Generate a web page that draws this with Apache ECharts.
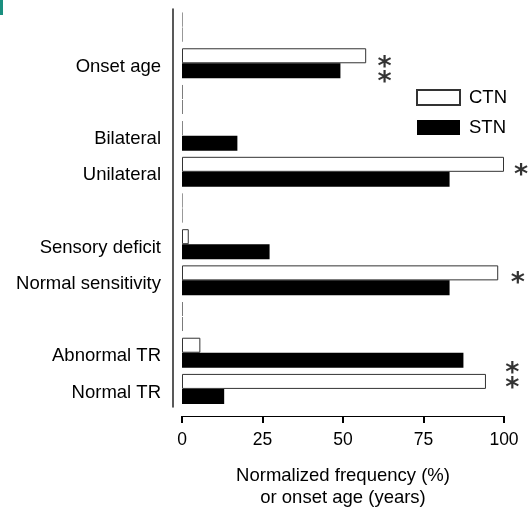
<!DOCTYPE html>
<html>
<head>
<meta charset="utf-8">
<script src="https://cdn.jsdelivr.net/npm/echarts@6/dist/echarts.min.js"></script>
<style>
html,body{margin:0;padding:0;background:#fff;}
#chart{width:528px;height:510px;}
</style>
</head>
<body>
<div id="chart"></div>
<script>
// Categories (top to bottom); empty strings are spacer rows
var categories = ['', 'Onset age', ' ', 'Bilateral', 'Unilateral', '  ', 'Sensory deficit', 'Normal sensitivity', '   ', 'Abnormal TR', 'Normal TR'];
var ctnValues = [0, 57.2, 0, 0, 100, 0, 2.1, 98.2, 0, 5.7, 94.4];
var stnValues = [0, 49.2, 0, 17.2, 83.1, 0, 27.2, 83.1, 0, 87.4, 13.1];
var xTicks = [0, 25, 50, 75, 100];
// Significance marks: [x value, category, text]
var sigMarks = [
  [62.9, 'Onset age', '*\n*'],
  [105.3, 'Unilateral', '*'],
  [104.3, 'Normal sensitivity', '*'],
  [102.6, 'Normal TR', '*\n*']
];

var FONT = '"Liberation Sans", Arial, sans-serif';

function toItems(arr) {
  return arr.map(function (v) {
    if (v === 0) {
      return { value: 0, itemStyle: { color: 'transparent', borderType: [1, 1], borderColor: '#777', borderWidth: 1 } };
    }
    return v;
  });
}

var chart = echarts.init(document.getElementById('chart'), null, { renderer: 'canvas' });
chart.setOption({
  animation: false,
  backgroundColor: '#fff',
  grid: { left: 182, right: 24, top: 9, height: 398, containLabel: false, outerBoundsMode: 'none' },
  legend: {
    orient: 'vertical',
    left: 411,
    top: 83,
    itemWidth: 43,
    itemHeight: 15,
    itemGap: 11,
    icon: 'rect',
    textStyle: { fontFamily: FONT, fontSize: 18.5, color: '#000', padding: [0, 0, 0, 4] },
    data: ['CTN', 'STN']
  },
  xAxis: {
    type: 'value',
    min: xTicks[0],
    max: xTicks[xTicks.length - 1],
    interval: 25,
    offset: 9,
    axisLine: { show: true, onZero: false, lineStyle: { color: '#000', width: 1.2 } },
    axisTick: { show: true, length: 7, lineStyle: { color: '#000', width: 2 } },
    splitLine: { show: false },
    axisLabel: { fontFamily: FONT, fontSize: 17.5, color: '#000', margin: 15 },
    name: 'Normalized frequency (%)\nor onset age (years)',
    nameLocation: 'middle',
    nameGap: 49,
    nameTextStyle: { fontFamily: FONT, fontSize: 18.5, color: '#000', lineHeight: 22, verticalAlign: 'top' }
  },
  yAxis: {
    type: 'category',
    data: categories,
    inverse: true,
    offset: 9,
    axisLine: { show: true, onZero: false, lineStyle: { color: '#222', width: 1.5 } },
    axisTick: { show: false },
    splitLine: { show: false },
    axisLabel: { fontFamily: FONT, fontSize: 18.5, color: '#000', margin: 12, verticalAlign: 'top', lineHeight: 7 }
  },
  series: [
    {
      name: 'CTN',
      type: 'bar',
      data: toItems(ctnValues),
      barWidth: 15,
      barGap: '0%',
      barMinHeight: 1,
      itemStyle: { color: '#fff', borderColor: '#333', borderWidth: 1 }
    },
    {
      name: 'STN',
      type: 'bar',
      data: toItems(stnValues),
      barWidth: 15,
      barGap: '0%',
      barMinHeight: 1,
      itemStyle: { color: '#000', borderColor: '#000', borderWidth: 0 }
    },
    {
      name: 'sig',
      type: 'scatter',
      clip: false,
      symbolSize: 0,
      silent: true,
      data: sigMarks.map(function (m) {
        var multi = m[2].indexOf('\n') >= 0;
        return {
          value: [m[0], m[1]],
          label: {
            show: true,
            formatter: m[2],
            position: 'inside',
            offset: multi ? [0, m[1] === 'Normal TR' ? -7.5 : 12.5] : [0, 4],
            fontFamily: '"DejaVu Sans", sans-serif',
            fontWeight: 'bold',
            fontSize: 27,
            lineHeight: 15,
            color: '#000'
          }
        };
      })
    }
  ],
  graphic: [
    { type: 'rect', left: 0, top: 0, shape: { width: 3, height: 15 }, style: { fill: '#1a8f7f' } }
  ]
});
</script>
</body>
</html>
